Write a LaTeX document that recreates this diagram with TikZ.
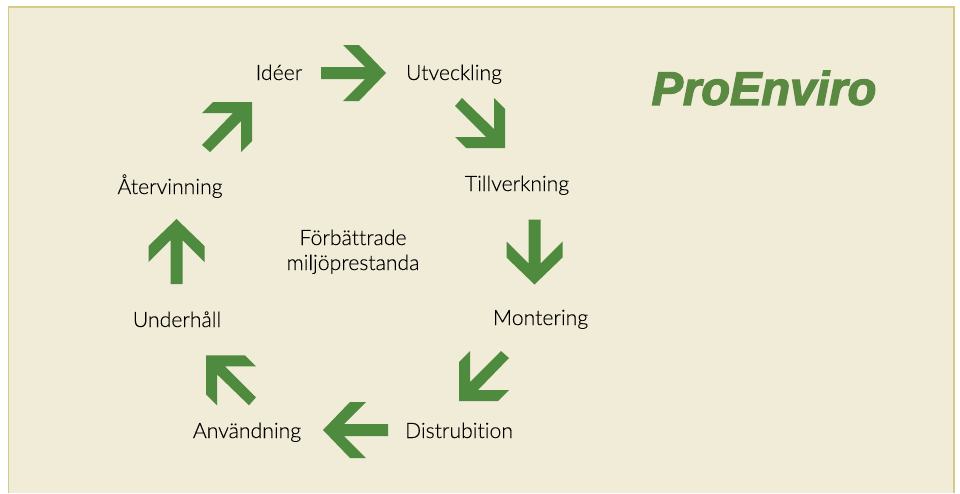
\documentclass[tikz,border=0pt]{standalone}
\usepackage{fontspec}
\setmainfont[Ligatures=NoCommon,FakeBold=0.12]{Lato Light}
\newfontfamily\logofont[FakeBold=3]{Liberation Sans}
\definecolor{panelbg}{HTML}{F1ECD7}
\definecolor{panelline}{HTML}{D5CB85}
\definecolor{arrowgreen}{HTML}{4F8B3E}
\definecolor{logogreen}{HTML}{5A8941}
\tikzset{
  lbl/.style={font=\fontsize{21.2}{24}\selectfont,text=black,inner sep=0pt,align=center,anchor=base},
  pics/straightarrow/.style={code={\fill[arrowgreen] (0,0)--(-27,-28)--(-43,-28)--(-21,-6)--(-65,-6)--(-65,6)--(-21,6)--(-43,28)--(-27,28)--cycle;}},
  pics/diagarrow/.style={code={\fill[arrowgreen] (0,0)--(-39,0)--(-50,11)--(-19,11)--(-50,43)--(-42,50)--(-11,19)--(-11,50)--(0,39)--cycle;}}
}
\begin{document}
\begin{tikzpicture}[x=1pt,y=-1pt]
\useasboundingbox (0,0) rectangle (960,493);
\fill[white] (0,0) rectangle (960,493);
\fill[panelbg] (8,7) rectangle (954,493);
\draw[panelline,line width=1.5pt] (8.5,493)--(8.5,7)--(954,7)--(954,493);
\node[lbl] (idea) at (279,80) {Idéer};
\node[lbl] (utv) at (454,80) {Utveckling};
\node[lbl] (till) at (517,191) {Tillverkning};
\node[lbl] (mont) at (540.5,325) {Montering};
\node[lbl] (dist) at (459,438) {Distrubition};
\node[lbl] (anv) at (247,438) {Användning};
\node[lbl] (und) at (177,327) {Underhåll};
\node[lbl] (ater) at (170,194) {Återvinning};
\node[lbl] (fb1) at (353,245) {Förbättrade};
\node[lbl] (fb2) at (353,270) {miljöprestanda};
\node[inner sep=0pt,text=logogreen,font=\logofont\bfseries\itshape\fontsize{47}{47}\selectfont] (logo) at (764,88) {ProEnviro};
\pic at (386,73) {straightarrow};
\pic at (505,148) [rotate=-90] {diagarrow};
\pic at (534.5,284.5) [rotate=-90] {straightarrow};
\pic at (459,401) [rotate=-180] {diagarrow};
\pic at (323,430) [rotate=180] {straightarrow};
\pic at (206,355.3) [rotate=90] {diagarrow};
\pic at (176.5,219) [rotate=90] {straightarrow};
\pic at (252,102) {diagarrow};
\end{tikzpicture}
\end{document}
